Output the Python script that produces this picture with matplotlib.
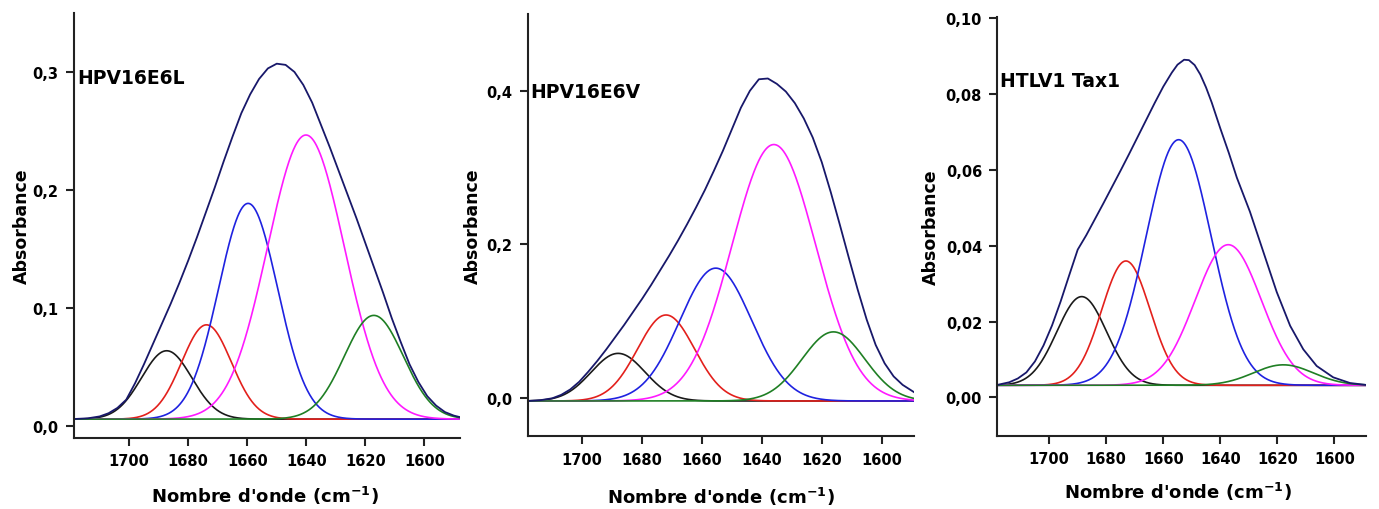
import numpy as np
import matplotlib
matplotlib.use("Agg")
import matplotlib.pyplot as plt

# ---- data ----
panel_names = ["HPV16E6L", "HPV16E6V", "HTLV1 Tax1"]
component_colors = ["#1a1a1a", "#e3201c", "#1f22e0", "#ff1aff", "#1f7f24"]
envelope_color = "#18186a"

# Gaussian bands: centres (cm-1), heights above baseline, widths (sigma, cm-1)
centers_L = [1687.3, 1673.8, 1659.7, 1640.1, 1617.1]
heights_L = [0.058, 0.080, 0.183, 0.241, 0.088]
sigmas_L = [8.5, 8.4, 10.0, 13.0, 10.0]
baseline_L = 0.0055

centers_V = [1688.0, 1672.0, 1655.4, 1636.0, 1616.1]
heights_V = [0.062, 0.112, 0.173, 0.334, 0.090]
sigmas_V = [9.0, 9.5, 12.0, 14.0, 10.5]
baseline_V = -0.004

centers_T = [1688.6, 1673.1, 1654.6, 1637.2, 1617.9]
heights_T = [0.0234, 0.0328, 0.0648, 0.0371, 0.0054]
sigmas_T = [8.7, 8.5, 11.4, 11.6, 10.5]
baseline_T = 0.0032

# measured envelope (wavenumber, absorbance)
env_w_L = [1718.7, 1714, 1710, 1707, 1704, 1701, 1698, 1695, 1692, 1689, 1686, 1683,
           1680, 1677, 1674, 1671, 1668, 1665, 1662, 1659, 1656, 1653, 1650, 1647,
           1644, 1641, 1638, 1635, 1632, 1629, 1626, 1623, 1620, 1617, 1614, 1611,
           1608, 1605, 1602, 1599, 1596, 1593, 1590, 1587.9]
env_a_L = [0.0056, 0.0062, 0.0078, 0.0105, 0.0150, 0.0220, 0.036, 0.052, 0.069, 0.086,
           0.103, 0.121, 0.140, 0.160, 0.181, 0.202, 0.224, 0.245, 0.265, 0.281, 0.294,
           0.303, 0.307, 0.306, 0.300, 0.289, 0.274, 0.255, 0.236, 0.216, 0.196, 0.176,
           0.155, 0.134, 0.113, 0.091, 0.071, 0.052, 0.037, 0.025, 0.017, 0.0115,
           0.0085, 0.0072]

env_w_V = [1718.2, 1714, 1710, 1707, 1704, 1701, 1698, 1695, 1692, 1689, 1686, 1683,
           1680, 1677, 1674, 1671, 1668, 1665, 1662, 1659, 1656, 1653, 1650, 1647,
           1644, 1641, 1638, 1635, 1632, 1629, 1626, 1623, 1620, 1617, 1614, 1611,
           1608, 1605, 1602, 1599, 1596, 1593, 1590, 1589.2]
env_a_V = [-0.004, -0.003, -0.0005, 0.004, 0.011, 0.021, 0.034, 0.048, 0.063, 0.079,
           0.095, 0.112, 0.129, 0.147, 0.166, 0.185, 0.205, 0.226, 0.248, 0.271, 0.296,
           0.322, 0.350, 0.378, 0.400, 0.415, 0.416, 0.409, 0.399, 0.384, 0.364, 0.339,
           0.307, 0.268, 0.226, 0.183, 0.141, 0.102, 0.069, 0.045, 0.028, 0.017,
           0.0095, 0.0075]

env_w_T = [1718.2, 1714, 1711, 1708, 1705, 1702, 1699, 1696, 1693, 1690, 1687, 1684,
           1681, 1678, 1675, 1672, 1669, 1666, 1663, 1660, 1657, 1655, 1652.7, 1651,
           1649, 1647, 1645, 1643, 1640, 1637, 1634.2, 1629.6, 1624.9, 1620.2,
           1615.5, 1610.9, 1606.2, 1600.4, 1594.5, 1588.9]
env_a_T = [0.0033, 0.0040, 0.0050, 0.0066, 0.0095, 0.0137, 0.0190, 0.0253, 0.0322,
           0.0390, 0.0428, 0.0470, 0.0512, 0.0555, 0.0598, 0.0642, 0.0687, 0.0732,
           0.0777, 0.0820, 0.0857, 0.0878, 0.0891, 0.0890, 0.0877, 0.0852, 0.0818,
           0.0778, 0.0710, 0.0645, 0.0580, 0.0490, 0.0384, 0.0278, 0.0189, 0.0127,
           0.0083, 0.0053, 0.0038, 0.0033]

x_ticks = [1700, 1680, 1660, 1640, 1620, 1600]
y_ticks_L = [0.0, 0.1, 0.2, 0.3]
y_labels_L = ["0,0", "0,1", "0,2", "0,3"]
y_ticks_V = [0.0, 0.2, 0.4]
y_labels_V = ["0,0", "0,2", "0,4"]
y_ticks_T = [0.0, 0.02, 0.04, 0.06, 0.08, 0.10]
y_labels_T = ["0,00", "0,02", "0,04", "0,06", "0,08", "0,10"]

panels = [
    dict(name=panel_names[0], c=centers_L, h=heights_L, s=sigmas_L, b=baseline_L,
         ew=env_w_L, ea=env_a_L,
         yt=y_ticks_L, yl=y_labels_L, xlim=(1718.7, 1587.9), ylim=(-0.0105, 0.350),
         rect=[74/1379, 71/510, 386/1379, 425/510], text_pos=(0.008, 0.849),
         ylab=(-0.135, 0.5), xlab=(0.495, -0.133)),
    dict(name=panel_names[1], c=centers_V, h=heights_V, s=sigmas_V, b=baseline_V,
         ew=env_w_V, ea=env_a_V,
         yt=y_ticks_V, yl=y_labels_V, xlim=(1718.2, 1589.2), ylim=(-0.050, 0.500),
         rect=[527.7/1379, 72.7/510, 386.3/1379, 422.3/510], text_pos=(0.006, 0.816),
         ylab=(-0.141, 0.5), xlab=(0.5, -0.141)),
    dict(name=panel_names[2], c=centers_T, h=heights_T, s=sigmas_T, b=baseline_T,
         ew=env_w_T, ea=env_a_T,
         yt=y_ticks_T, yl=y_labels_T, xlim=(1718.2, 1588.9), ylim=(-0.0101, 0.1003),
         rect=[997.3/1379, 73.3/510, 368.7/1379, 418.4/510], text_pos=(0.0073, 0.8485),
         ylab=(-0.181, 0.5), xlab=(0.49, -0.131)),
]

plt.rcParams['font.family'] = ['DejaVu Sans']
plt.rcParams['mathtext.fontset'] = 'dejavusans'

fig = plt.figure(figsize=(13.79, 5.10), dpi=100)
fig.patch.set_facecolor("white")

for p in panels:
    ax = fig.add_axes(p["rect"])
    x = np.linspace(p["xlim"][0], p["xlim"][1], 800)
    for c, h, s, col in zip(p["c"], p["h"], p["s"], component_colors):
        ax.plot(x, p["b"] + h * np.exp(-0.5 * ((x - c) / s) ** 2), color=col, lw=1.2)
    ax.plot(p["ew"], p["ea"], color=envelope_color, lw=1.3, solid_joinstyle="round")

    ax.set_xlim(*p["xlim"])
    ax.set_ylim(*p["ylim"])
    ax.set_xticks(x_ticks)
    ax.set_xticklabels([str(t) for t in x_ticks], fontweight="bold", fontsize=10.5)
    ax.set_yticks(p["yt"])
    ax.set_yticklabels(p["yl"], fontweight="bold", fontsize=10.5)
    for side in ["top", "right"]:
        ax.spines[side].set_visible(False)
    for side in ["left", "bottom"]:
        ax.spines[side].set_linewidth(1.5)
        ax.spines[side].set_color("#222222")
    ax.tick_params(axis="both", direction="out", length=6, width=1.5, color="#222222", pad=5)
    ax.set_xlabel(r"Nombre d'onde (cm$^{\mathbf{-1}}$)", fontsize=13, fontweight="bold")
    ax.xaxis.label.set_verticalalignment("center")
    ax.xaxis.set_label_coords(*p["xlab"])
    ax.set_ylabel("Absorbance", fontsize=12.5, fontweight="bold")
    ax.yaxis.label.set_verticalalignment("center")
    ax.yaxis.set_label_coords(*p["ylab"])
    ax.text(p["text_pos"][0], p["text_pos"][1], p["name"], transform=ax.transAxes,
            fontsize=13.5, fontweight="bold", va="center", ha="left")

fig.savefig("out.png", dpi=100, facecolor="white")
